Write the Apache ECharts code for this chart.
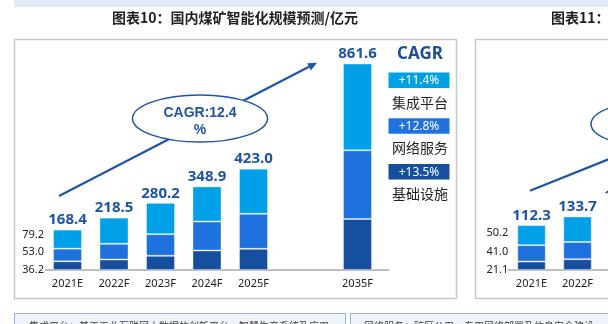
<!DOCTYPE html>
<html>
<head>
<meta charset="utf-8">
<script src="https://cdn.jsdelivr.net/npm/echarts@6/dist/echarts.min.js"></script>
<style>html,body{margin:0;padding:0;background:#fff}#c{width:608px;height:324px}</style>
</head>
<body>
<div id="c"></div>
<script>
// ---- Chart 10 data (亿元) ----
const categoriesA = ['2021E', '2022F', '2023F', '2024F', '2025F'];
const categoriesB = ['2035F'];
const infraA = [36.2, 43.8, 59.3, 81.4, 88.5, 212.9];      // 基础设施
const networkA = [53.0, 65.6, 90.2, 121.1, 146.1, 286.7];  // 网络服务
const platformA = [79.2, 109.1, 130.7, 146.4, 188.4, 362.0]; // 集成平台
const totalsA = [168.4, 218.5, 280.2, 348.9, 423.0, 861.6];
const cagrTotal = 'CAGR:12.4\n%';
const segNames = ['集成平台', '网络服务', '基础设施'];
const segCagr = ['+11.4%', '+12.8%', '+13.5%'];
// ---- Chart 11 (partially visible) ----
const categoriesC = ['2021E', '2022F', '2023F'];
const infraC = [21.1, 27.0, 33.0];
const networkC = [41.0, 43.0, 52.0];
const platformC = [50.2, 63.7, 77.9];
const totalsC = [112.3, 133.7, 162.9];
const title10 = '图表10：国内煤矿智能化规模预测/亿元';
const title11 = '图表11：';
const note1 = '集成平台：基于工业互联网大数据的创新平台、智慧生产系统及应用';
const note2 = '网络服务：矿区公用、专用网络部署及信息安全建设';

const C_TOP = '#00a0e9', C_MID = '#1f72de', C_BOT = '#164f9e';
const C_VAL = '#1c55a6', C_LINE = '#1f55a2';
const FONT = '"Noto Sans", "Noto Sans CJK SC", sans-serif';
const CJK = '"Noto Sans CJK SC", sans-serif';

const chart = echarts.init(document.getElementById('c'), null, {renderer: 'canvas'});

function leftLabel(offsetY) {
  return {show: true, position: 'left', distance: 9, offset: [0, offsetY],
    color: '#222', fontSize: 11, fontWeight: 'normal', fontFamily: FONT,
    formatter: p => Number(p.value).toFixed(1)};
}
function withFirstLabel(arr, offsetY) {
  return arr.map((v, i) => i === 0 ? {value: v, label: leftLabel(offsetY)} : v);
}
function stackSeries(xi, yi, infra, network, platform, totals, bw, stackName, offs) {
  const common = {type: 'bar', xAxisIndex: xi, yAxisIndex: yi, stack: stackName, barWidth: bw, barGap: '-100%',
    animation: false, itemStyle: {borderColor: 'rgba(255,255,255,0.35)', borderWidth: 1}};
  const withL = (arr, k) => offs ? withFirstLabel(arr, offs[k]) : arr;
  return [
    Object.assign({}, common, {name: '基础设施', data: withL(infra, 0),
      itemStyle: Object.assign({}, common.itemStyle, {color: C_BOT})}),
    Object.assign({}, common, {name: '网络服务', data: withL(network, 1),
      itemStyle: Object.assign({}, common.itemStyle, {color: C_MID})}),
    Object.assign({}, common, {name: '集成平台', data: withL(platform, 2),
      itemStyle: Object.assign({}, common.itemStyle, {color: C_TOP})}),
    {type: 'bar', xAxisIndex: xi, yAxisIndex: yi, name: '合计', data: totals, barWidth: bw, barGap: '-100%',
      z: 1, silent: true, itemStyle: {color: 'rgba(0,0,0,0)'},
      label: {show: true, position: 'top', distance: 2, color: C_VAL, fontSize: 15, fontWeight: 'bold',
        fontFamily: FONT, formatter: p => Number(p.value).toFixed(1)}}
  ];
}

const n = categoriesA.length;
const series = []
  .concat(stackSeries(0, 0, infraA.slice(0, n), networkA.slice(0, n), platformA.slice(0, n), totalsA.slice(0, n), 29, 'a', [4.5, -3, -4.5]))
  .concat(stackSeries(1, 1, infraA.slice(n), networkA.slice(n), platformA.slice(n), totalsA.slice(n), 29, 'b', null))
  .concat(stackSeries(2, 2, infraC, networkC, platformC, totalsC, 28.5, 'c', [4.5, -2, -2]));

const xCommon = {type: 'category', axisTick: {show: false}, axisLine: {show: false},
  axisLabel: {color: '#222', fontSize: 11, fontFamily: FONT, margin: 8}};

function arrow(x1, y1, x2, y2, head, half) {
  const dx = x2 - x1, dy = y2 - y1, L = Math.hypot(dx, dy), ux = dx / L, uy = dy / L;
  const bx = x2 - ux * head, by = y2 - uy * head;
  return [
    {type: 'line', z: 5, shape: {x1, y1, x2: bx, y2: by}, style: {stroke: C_LINE, lineWidth: 2.2}},
    {type: 'polygon', z: 5, shape: {points: [[x2, y2], [bx - uy * half, by + ux * half], [bx + uy * half, by - ux * half]]},
      style: {fill: C_LINE}}
  ];
}

const graphic = [
  {type: 'rect', shape: {x: 14, y: 0, width: 594, height: 7}, style: {fill: '#e4ebf6'}},
  {type: 'text', x: 235, y: 18, style: {text: title10, font: 'bold 14px ' + CJK, fill: '#222', align: 'center', verticalAlign: 'middle'}},
  {type: 'text', x: 551, y: 18, style: {text: title11, font: 'bold 14px ' + CJK, fill: '#222', align: 'left', verticalAlign: 'middle'}},
  {type: 'rect', shape: {x: 14.5, y: 39.5, width: 442, height: 259}, style: {fill: null, stroke: '#c8c8c8', lineWidth: 1.5}},
  {type: 'rect', shape: {x: 475.5, y: 39.5, width: 200, height: 259}, style: {fill: null, stroke: '#c8c8c8', lineWidth: 1.5}},
  {type: 'line', shape: {x1: 45, y1: 270, x2: 389, y2: 270}, style: {stroke: '#808080', lineWidth: 1}},
  {type: 'line', shape: {x1: 508, y1: 270, x2: 608, y2: 270}, style: {stroke: '#808080', lineWidth: 1}},
  ...arrow(59, 196, 317, 62.7, 9, 4),
  {type: 'ellipse', z: 6, shape: {cx: 200, cy: 118.5, rx: 67.5, ry: 23.5}, style: {fill: '#fff', stroke: C_LINE, lineWidth: 1.5}},
  {type: 'text', z: 7, x: 200, y: 121.5, style: {text: cagrTotal, font: 'bold 14px "Liberation Sans", Arial, sans-serif', lineHeight: 17,
    fill: C_LINE, align: 'center', verticalAlign: 'middle'}},
  {type: 'line', z: 5, shape: {x1: 530, y1: 190.7, x2: 650, y2: 142.7}, style: {stroke: C_LINE, lineWidth: 2.2}},
  {type: 'ellipse', z: 6, shape: {cx: 659, cy: 124, rx: 68, ry: 23.5}, style: {fill: '#fff', stroke: C_LINE, lineWidth: 1.5}},
  {type: 'text', x: 420, y: 54, style: {text: 'CAGR', font: 'bold 17px ' + FONT, fill: '#1f4e99', align: 'center', verticalAlign: 'middle'}},
  {type: 'rect', shape: {x: 14.5, y: 313.5, width: 331, height: 20}, style: {fill: '#eef3fb', stroke: '#9ab5df', lineWidth: 1}},
  {type: 'rect', shape: {x: 350.5, y: 313.5, width: 270, height: 20}, style: {fill: '#eef3fb', stroke: '#9ab5df', lineWidth: 1}},
  {type: 'text', x: 29, y: 326, style: {text: note1, font: '10px ' + CJK, fill: '#444', align: 'left', verticalAlign: 'middle'}},
  {type: 'text', x: 364, y: 326, style: {text: note2, font: '10px ' + CJK, fill: '#444', align: 'left', verticalAlign: 'middle'}}
];
const boxColors = [C_TOP, C_MID, C_BOT];
segNames.forEach((nm, i) => {
  const y0 = 72.5 + i * 45.8;
  graphic.push({type: 'rect', shape: {x: 388.5, y: y0, width: 61, height: 15.5}, style: {fill: boxColors[i]}});
  graphic.push({type: 'text', x: 419, y: y0 + 8, style: {text: segCagr[i], font: '12px ' + FONT, fill: '#fff', align: 'center', verticalAlign: 'middle'}});
  graphic.push({type: 'text', x: 420, y: y0 + 29.8, style: {text: nm, font: '14px ' + CJK, fill: '#222', align: 'center', verticalAlign: 'middle'}});
});

chart.setOption({
  animation: false,
  grid: [
    {left: 44.25, top: 40, width: 232.5, height: 230, outerBoundsMode: 'none', containLabel: false},
    {left: 334.25, top: 40, width: 46.5, height: 230, outerBoundsMode: 'none', containLabel: false},
    {left: 508.5, top: 40, width: 138, height: 230, outerBoundsMode: 'none', containLabel: false}
  ],
  xAxis: [
    Object.assign({}, xCommon, {gridIndex: 0, data: categoriesA}),
    Object.assign({}, xCommon, {gridIndex: 1, data: categoriesB}),
    Object.assign({}, xCommon, {gridIndex: 2, data: categoriesC})
  ],
  yAxis: [
    {type: 'value', gridIndex: 0, min: 0, max: 960, show: false},
    {type: 'value', gridIndex: 1, min: 0, max: 960, show: false},
    {type: 'value', gridIndex: 2, min: 0, max: 575, show: false}
  ],
  series: series,
  graphic: graphic
});
</script>
</body>
</html>
